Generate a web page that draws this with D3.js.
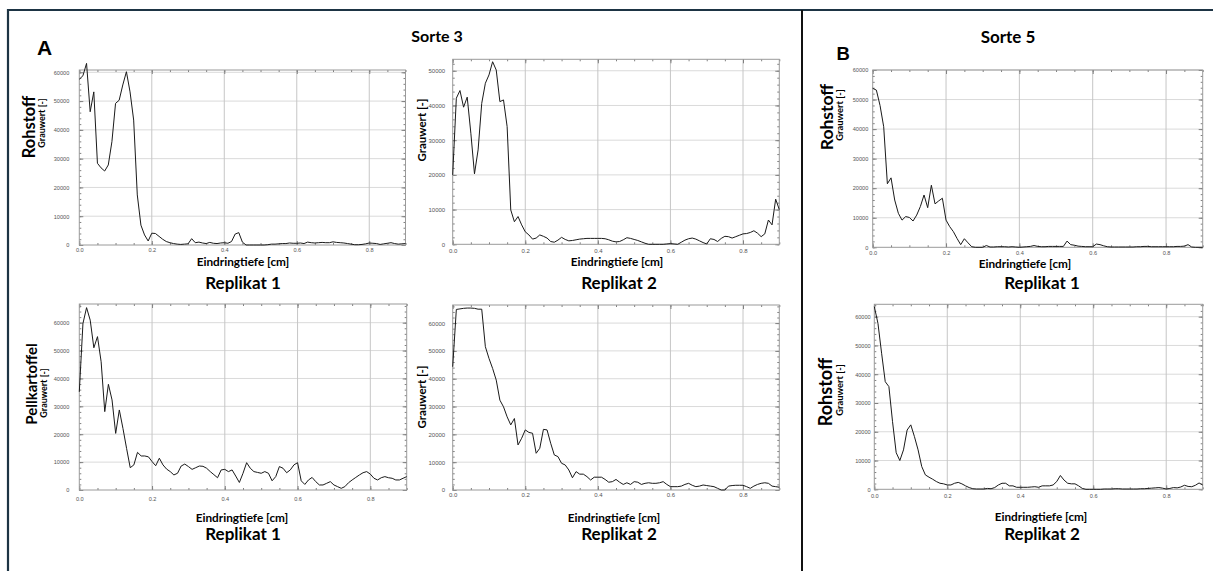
<!DOCTYPE html>
<html><head><meta charset="utf-8">
<script src="https://cdn.jsdelivr.net/npm/d3@7"></script>
<style>
html,body{margin:0;padding:0;background:#fff;}
svg{display:block;}
</style>
</head><body>
<svg id="chart" width="1213" height="571"></svg>
<script>
// ---------- DATA ----------
const depth = [
 0.00,0.01,0.02,0.03,0.04,0.05,0.06,0.07,0.08,0.09,
 0.10,0.11,0.12,0.13,0.14,0.15,0.16,0.17,0.18,0.19,
 0.20,0.21,0.22,0.23,0.24,0.25,0.26,0.27,0.28,0.29,
 0.30,0.31,0.32,0.33,0.34,0.35,0.36,0.37,0.38,0.39,
 0.40,0.41,0.42,0.43,0.44,0.45,0.46,0.47,0.48,0.49,
 0.50,0.51,0.52,0.53,0.54,0.55,0.56,0.57,0.58,0.59,
 0.60,0.61,0.62,0.63,0.64,0.65,0.66,0.67,0.68,0.69,
 0.70,0.71,0.72,0.73,0.74,0.75,0.76,0.77,0.78,0.79,
 0.80,0.81,0.82,0.83,0.84,0.85,0.86,0.87,0.88,0.89,
 0.90];

// Sorte 3 – Rohstoff – Replikat 1
const sorte3RohstoffR1 = [
 57600,58800,63100,46300,53200,28400,26800,25700,27800,35900,
 49200,50300,55600,60200,53200,43400,17400,6900,3500,1400,
 4100,4000,3000,2000,1200,800,500,300,200,300,
 400,2200,800,1000,700,500,900,600,500,700,
 800,600,1200,3800,4300,1000,0,0,0,0,
 0,0,100,300,300,400,500,500,700,600,
 600,700,500,1000,800,700,800,900,800,800,
 1100,900,800,700,500,300,100,100,200,400,
 700,600,500,200,400,600,800,500,300,400,
 500];

// Sorte 3 – Rohstoff – Replikat 2
const sorte3RohstoffR2 = [
 20000,42100,44300,39500,42400,32000,20300,27200,40600,46400,
 48800,52600,50200,41100,41600,33900,9900,6500,8000,5600,
 3600,2700,1500,1800,2700,2300,1800,800,600,1200,
 2000,1400,1000,1100,1300,1500,1600,1700,1700,1700,
 1700,1700,1600,1300,900,700,800,1300,1900,1700,
 1400,1100,700,300,0,0,0,0,0,100,
 200,100,0,600,1200,1600,1800,1500,1000,500,
 100,1600,1400,800,1700,2300,2200,1800,2200,2600,
 3000,3100,3400,3900,3200,2200,3000,7000,5600,13000,
 10000];

// Sorte 5 – Rohstoff – Replikat 1
const sorte5RohstoffR1 = [
 53800,53200,48000,40800,21500,23500,16000,11500,9200,10400,
 10100,8900,10900,13800,17700,13400,21000,14700,15700,16600,
 9200,7000,5300,3000,900,2900,1500,200,0,0,
 0,600,100,100,200,200,200,100,200,100,
 0,100,200,300,600,300,200,200,300,300,
 300,300,300,2100,900,700,400,300,200,200,
 200,1100,900,500,200,100,100,100,100,100,
 100,100,200,200,300,300,200,200,200,200,
 200,200,200,300,300,400,900,100,0,0,
 0];

// Sorte 3 – Pellkartoffel – Replikat 1
const sorte3PellR1 = [
 35200,59700,65400,60900,51000,55000,46000,28100,37900,32300,
 20300,28700,22100,14900,8000,9000,13500,12200,12200,11900,
 10200,8700,11400,9000,7500,6600,5400,6000,8600,9300,
 8400,7400,8000,8600,8500,7800,6600,5500,4400,7200,
 7400,6600,7200,5000,2700,6000,9800,7800,6600,6300,
 6000,6600,6000,3300,4800,8400,7800,6200,7200,9000,
 9800,3300,2000,3600,4500,3000,1800,1800,2400,3000,
 1800,1200,600,1200,2600,3600,4500,5400,6200,6600,
 5700,4200,3600,4400,4800,4400,4200,3600,3600,4200,
 4800];

// Sorte 3 – Pellkartoffel – Replikat 2
const sorte3PellR2 = [
 44300,64900,65100,65300,65400,65400,65300,65000,65000,51500,
 47300,43700,39500,32300,29900,26300,23400,25700,16200,18600,
 21600,20700,20400,13200,15000,21800,21600,16800,12600,12000,
 9600,9000,7200,4400,6600,5700,5700,4800,3600,4600,
 4600,4600,3800,2800,3000,3800,2800,2000,2600,2000,
 3000,2800,2000,2400,2600,2400,2400,2600,3000,2000,
 1200,1200,1200,1400,2000,2400,1700,1200,1400,1800,
 1600,1400,1200,600,0,0,1400,1600,1700,1700,
 1700,1200,600,1400,2000,2400,2600,2400,1400,1200,
 1000];

// Sorte 5 – Rohstoff – Replikat 2
const sorte5RohstoffR2 = [
 63500,57700,47300,37400,35700,23500,12700,10000,13700,20600,
 22400,18300,13700,7900,5000,4200,3500,2700,2100,1900,
 1500,1500,2100,2400,1900,1200,600,200,100,100,
 100,300,200,600,1500,2100,2100,1200,1200,700,
 700,700,700,800,900,700,1200,1200,1200,1500,
 2700,4800,3200,2100,1900,1900,1200,300,0,0,
 0,0,0,100,100,100,200,200,100,100,
 100,100,100,200,200,300,400,500,600,400,
 100,300,600,500,800,1400,1000,900,1400,2200,
 1500];

const xTickValues = [0, 0.2, 0.4, 0.6, 0.8];
const xTickLabels = ["0.0", "0.2", "0.4", "0.6", "0.8"];
const yTickValues = [0, 10000, 20000, 30000, 40000, 50000, 60000];
const yTickLabels = ["0", "10000", "20000", "30000", "40000", "50000", "60000"];

const xAxisTitle = "Eindringtiefe [cm]";
const yAxisTitle = "Grauwert [-]";

// ---------- LAYOUT (positions & sizes) ----------
const panels = [
 { data: sorte3RohstoffR1, box:[79.3,405.5,70,245], ymax:60800, yPad:10, xPad:3.5, tickFs:5.6,
   group:{t:"Rohstoff", x:28.5, y:127, fs:16.5}, ylab:{x:41.5, y:123, fs:9},
   xlab:{x:243, y:265.5, fs:11.8}, rep:{t:"Replikat 1", x:243, y:289} },
 { data: sorte3RohstoffR2, box:[452.7,779.3,59.3,244.3], ymax:53300, yPad:7.5, xPad:4, tickFs:6,
   group:null, ylab:{x:421, y:130, fs:11.5},
   xlab:{x:617, y:265.5, fs:11.8}, rep:{t:"Replikat 2", x:619, y:289} },
 { data: sorte5RohstoffR1, box:[872.7,1202.7,70,247.3], ymax:60000, yPad:4.4, xPad:3.5, tickFs:5.6,
   group:{t:"Rohstoff", x:826, y:117, fs:17.5}, ylab:{x:839, y:115, fs:9.4},
   xlab:{x:1025, y:267.5, fs:11.8}, rep:{t:"Replikat 1", x:1042, y:289} },
 { data: sorte3PellR1, box:[79.3,406.7,304,490], ymax:66700, yPad:10, xPad:7, tickFs:5.6,
   group:{t:"Pellkartoffel", x:31, y:384, fs:15}, ylab:{x:43.5, y:393, fs:9},
   xlab:{x:242, y:522, fs:11.8}, rep:{t:"Replikat 1", x:243, y:540} },
 { data: sorte3PellR2, box:[452.7,779.3,305,490], ymax:66500, yPad:7.5, xPad:3, tickFs:6,
   group:null, ylab:{x:421, y:397, fs:11.5},
   xlab:{x:614, y:522, fs:11.8}, rep:{t:"Replikat 2", x:619, y:540} },
 { data: sorte5RohstoffR2, box:[874.3,1202.7,304.3,489.3], ymax:64300, yPad:3.6, xPad:5, tickFs:5.6,
   group:{t:"Rohstoff", x:825, y:392, fs:18}, ylab:{x:839, y:390, fs:9.4},
   xlab:{x:1041, y:521, fs:11.8}, rep:{t:"Replikat 2", x:1042, y:540} }
];

const FONT = "Lato, 'Open Sans', sans-serif";
const svg = d3.select("#chart");

// outer frame lines
svg.append("line").attr("x1",7).attr("x2",1213).attr("y1",10).attr("y2",10)
  .attr("stroke","#1d3444").attr("stroke-width",2.2);
svg.append("line").attr("x1",8).attr("x2",8).attr("y1",9).attr("y2",571)
  .attr("stroke","#1d3444").attr("stroke-width",2.2);
svg.append("line").attr("x1",802).attr("x2",802).attr("y1",10).attr("y2",571)
  .attr("stroke","#111").attr("stroke-width",2);

// headers
svg.append("text").attr("x",37).attr("y",55).text("A")
  .attr("font-family","'Liberation Sans', Arial, sans-serif").attr("font-weight","bold").attr("font-size",21);
svg.append("text").attr("x",836.5).attr("y",60).text("B")
  .attr("font-family","'Liberation Sans', Arial, sans-serif").attr("font-weight","bold").attr("font-size",18.5);
svg.append("text").attr("x",437).attr("y",42).attr("text-anchor","middle").text("Sorte 3")
  .attr("font-family",FONT).attr("font-weight","bold").attr("font-size",16);
svg.append("text").attr("x",1008).attr("y",43).attr("text-anchor","middle").text("Sorte 5")
  .attr("font-family",FONT).attr("font-weight","bold").attr("font-size",17);

panels.forEach(p => {
  const [L,R,T,B] = p.box;
  const x = d3.scaleLinear().domain([0,0.9]).range([L,R]);
  const y = d3.scaleLinear().domain([0,p.ymax]).range([B,T]);
  const g = svg.append("g");

  g.append("rect").attr("x",L).attr("y",T).attr("width",R-L).attr("height",B-T).attr("fill","#fff");

  // gridlines
  g.selectAll(".hg").data(yTickValues.filter(v => v>0 && v<=p.ymax)).enter().append("line")
    .attr("x1",L).attr("x2",R).attr("y1",d=>y(d)).attr("y2",d=>y(d))
    .attr("stroke","#dadada").attr("stroke-width",1);
  g.selectAll(".vg").data(xTickValues.filter(v => v>0)).enter().append("line")
    .attr("x1",d=>x(d)).attr("x2",d=>x(d)).attr("y1",T).attr("y2",B)
    .attr("stroke","#c6c6c6").attr("stroke-width",1);

  // minor ticks (all sides, inward)
  const xMinor = x.ticks(18);
  const yMinor = d3.range(0, p.ymax, 2000);
  const styleAxis = sel => { sel.select(".domain").remove(); sel.selectAll("line").attr("stroke","#808080"); };
  g.append("g").attr("transform",`translate(0,${B})`).call(d3.axisBottom(x).tickValues(xMinor).tickSize(-2).tickFormat("")).call(styleAxis);
  g.append("g").attr("transform",`translate(0,${T})`).call(d3.axisTop(x).tickValues(xMinor).tickSize(-2).tickFormat("")).call(styleAxis);
  g.append("g").attr("transform",`translate(${L},0)`).call(d3.axisLeft(y).tickValues(yMinor).tickSize(-2).tickFormat("")).call(styleAxis);
  g.append("g").attr("transform",`translate(${R},0)`).call(d3.axisRight(y).tickValues(yMinor).tickSize(-2).tickFormat("")).call(styleAxis);
  // major ticks
  const yMaj = yTickValues.filter(v => v<=p.ymax);
  g.append("g").attr("transform",`translate(0,${T})`).call(d3.axisTop(x).tickValues(xTickValues).tickSize(-4).tickFormat("")).call(styleAxis);
  g.append("g").attr("transform",`translate(${R},0)`).call(d3.axisRight(y).tickValues(yMaj).tickSize(-4).tickFormat("")).call(styleAxis);
  const xa = g.append("g").attr("transform",`translate(0,${B})`)
    .call(d3.axisBottom(x).tickValues(xTickValues).tickSize(-4).tickPadding(p.xPad)
      .tickFormat(d=>xTickLabels[xTickValues.indexOf(d)])).call(styleAxis);
  const ya = g.append("g").attr("transform",`translate(${L},0)`)
    .call(d3.axisLeft(y).tickValues(yMaj).tickSize(-4).tickPadding(p.yPad)
      .tickFormat(d=>yTickLabels[yTickValues.indexOf(d)])).call(styleAxis);
  [xa,ya].forEach(a => a.selectAll("text").attr("font-family","'Liberation Sans', Arial, sans-serif")
    .attr("font-size",p.tickFs).attr("fill","#555"));

  // frame
  g.append("rect").attr("x",L).attr("y",T).attr("width",R-L).attr("height",B-T)
    .attr("fill","none").attr("stroke","#9a9a9a").attr("stroke-width",1);

  // data line
  const line = d3.line().x((d,i)=>x(depth[i])).y(d=>y(d));
  g.append("path").datum(p.data).attr("d",line).attr("fill","none")
    .attr("stroke","#1a1a1a").attr("stroke-width",1).attr("stroke-linejoin","round");

  // texts
  if (p.group) {
    g.append("text").attr("transform",`translate(${p.group.x},${p.group.y}) rotate(-90)`)
      .attr("text-anchor","middle").attr("dominant-baseline","central")
      .attr("font-family",FONT).attr("font-weight","bold").attr("font-size",p.group.fs).text(p.group.t);
  }
  g.append("text").attr("transform",`translate(${p.ylab.x},${p.ylab.y}) rotate(-90)`)
    .attr("text-anchor","middle").attr("dominant-baseline","central")
    .attr("font-family",FONT).attr("font-weight","bold").attr("font-size",p.ylab.fs).text(yAxisTitle);
  g.append("text").attr("x",p.xlab.x).attr("y",p.xlab.y).attr("text-anchor","middle")
    .attr("font-family",FONT).attr("font-weight","bold").attr("font-size",p.xlab.fs).text(xAxisTitle);
  g.append("text").attr("x",p.rep.x).attr("y",p.rep.y).attr("text-anchor","middle")
    .attr("font-family",FONT).attr("font-weight","bold").attr("font-size",17).text(p.rep.t);
});
</script>
</body></html>
